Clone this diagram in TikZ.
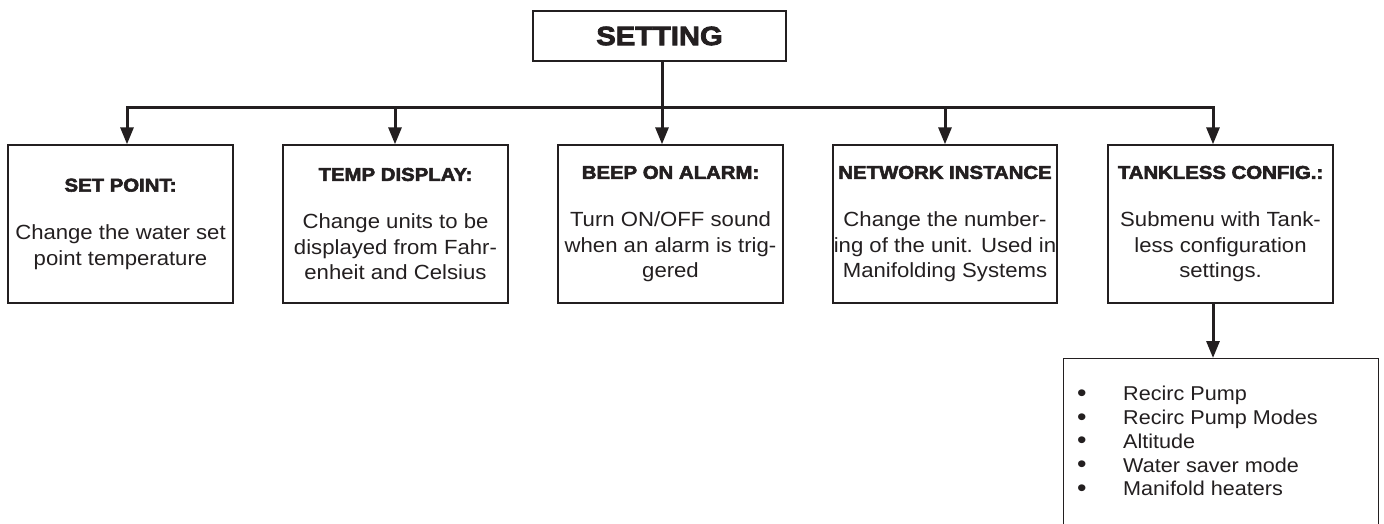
\documentclass[tikz,border=0pt]{standalone}
\usepackage{fontspec}
\setmainfont{Liberation Sans}
\newfontfamily\bodyfont[FakeStretch=1.08]{Liberation Sans}
\newfontfamily\headfont[FakeStretch=1.1,FakeBold=3]{Liberation Sans Bold}
\usetikzlibrary{arrows.meta}
\definecolor{ink}{HTML}{231F20}
\begin{document}
\begin{tikzpicture}[x=1pt,y=-1pt,
  frame/.style={draw=ink, line width=1.4pt, inner sep=0pt},
  box/.style={frame, minimum width=225pt, minimum height=158pt, align=center,
    font=\bodyfont\fontsize{20.5}{25.5}\selectfont, text=ink},
  link/.style={line width=3pt, draw=ink},
  arr/.style={link, -{Triangle[length=17pt,width=13pt]}}]
\clip (0,0) rectangle (1384,523);
\fill[white] (0,0) rectangle (1384,523);
% title
\node[frame, minimum width=253pt, minimum height=50pt,
  font=\headfont\fontsize{26.5}{30}\selectfont, text=ink] (set) at (659.5,36) {SETTING};
% children
\newcommand\hdtxt[1]{{\headfont\fontsize{18.5}{22}\selectfont #1}\\[22.5pt]}
\newcommand\bul{\makebox[46pt][l]{\raisebox{-0.5pt}{\fontsize{25}{0}\selectfont •}}}
\node[box] (b1) at (120.5,224) {\hdtxt{SET POINT:}Change the water set\\point temperature};
\node[box] (b2) at (395.5,224) {\hdtxt{TEMP DISPLAY:}Change units to be\\displayed from Fahr-\\enheit and Celsius};
\node[box] (b3) at (670.5,224) {\hdtxt{BEEP ON ALARM:}Turn ON/OFF sound\\when an alarm is trig-\\gered};
\node[box, minimum width=224pt] (b4) at (945,224) {\hdtxt{NETWORK INSTANCE}Change the number-\\ing of the unit. Used in\\Manifolding Systems};
\node[box] (b5) at (1220.5,224) {\hdtxt{TANKLESS CONFIG.:}Submenu with Tank-\\less configuration\\settings.};
% list box (runs past the bottom edge)
\node[frame, anchor=north west, minimum width=315pt, minimum height=200pt] (lst) at (1063,358) {};
\node[anchor=north west, align=left, inner sep=0pt, text=ink,
  font=\bodyfont\fontsize{20}{23.8}\selectfont] (items) at (1077,386)
  {\bul Recirc Pump\\
   \bul Recirc Pump Modes\\
   \bul Altitude\\
   \bul Water saver mode\\
   \bul Manifold heaters};
% connectors
\coordinate (j1) at (127,107);
\coordinate (j2) at (395,107);
\coordinate (jc) at (662,107);
\coordinate (j4) at (945,107);
\coordinate (j5) at (1213,107);
\draw[link] (jc |- set.south) -- (jc);
\draw[arr] (jc) -| (j1 |- b1.north);
\draw[arr] (jc) -| (j5 |- b5.north);
\draw[arr] (j2) -- (j2 |- b2.north);
\draw[arr] (jc) -- (jc |- b3.north);
\draw[arr] (j4) -- (j4 |- b4.north);
\draw[arr] (j5 |- b5.south) -- (j5 |- lst.north);
\end{tikzpicture}
\end{document}
